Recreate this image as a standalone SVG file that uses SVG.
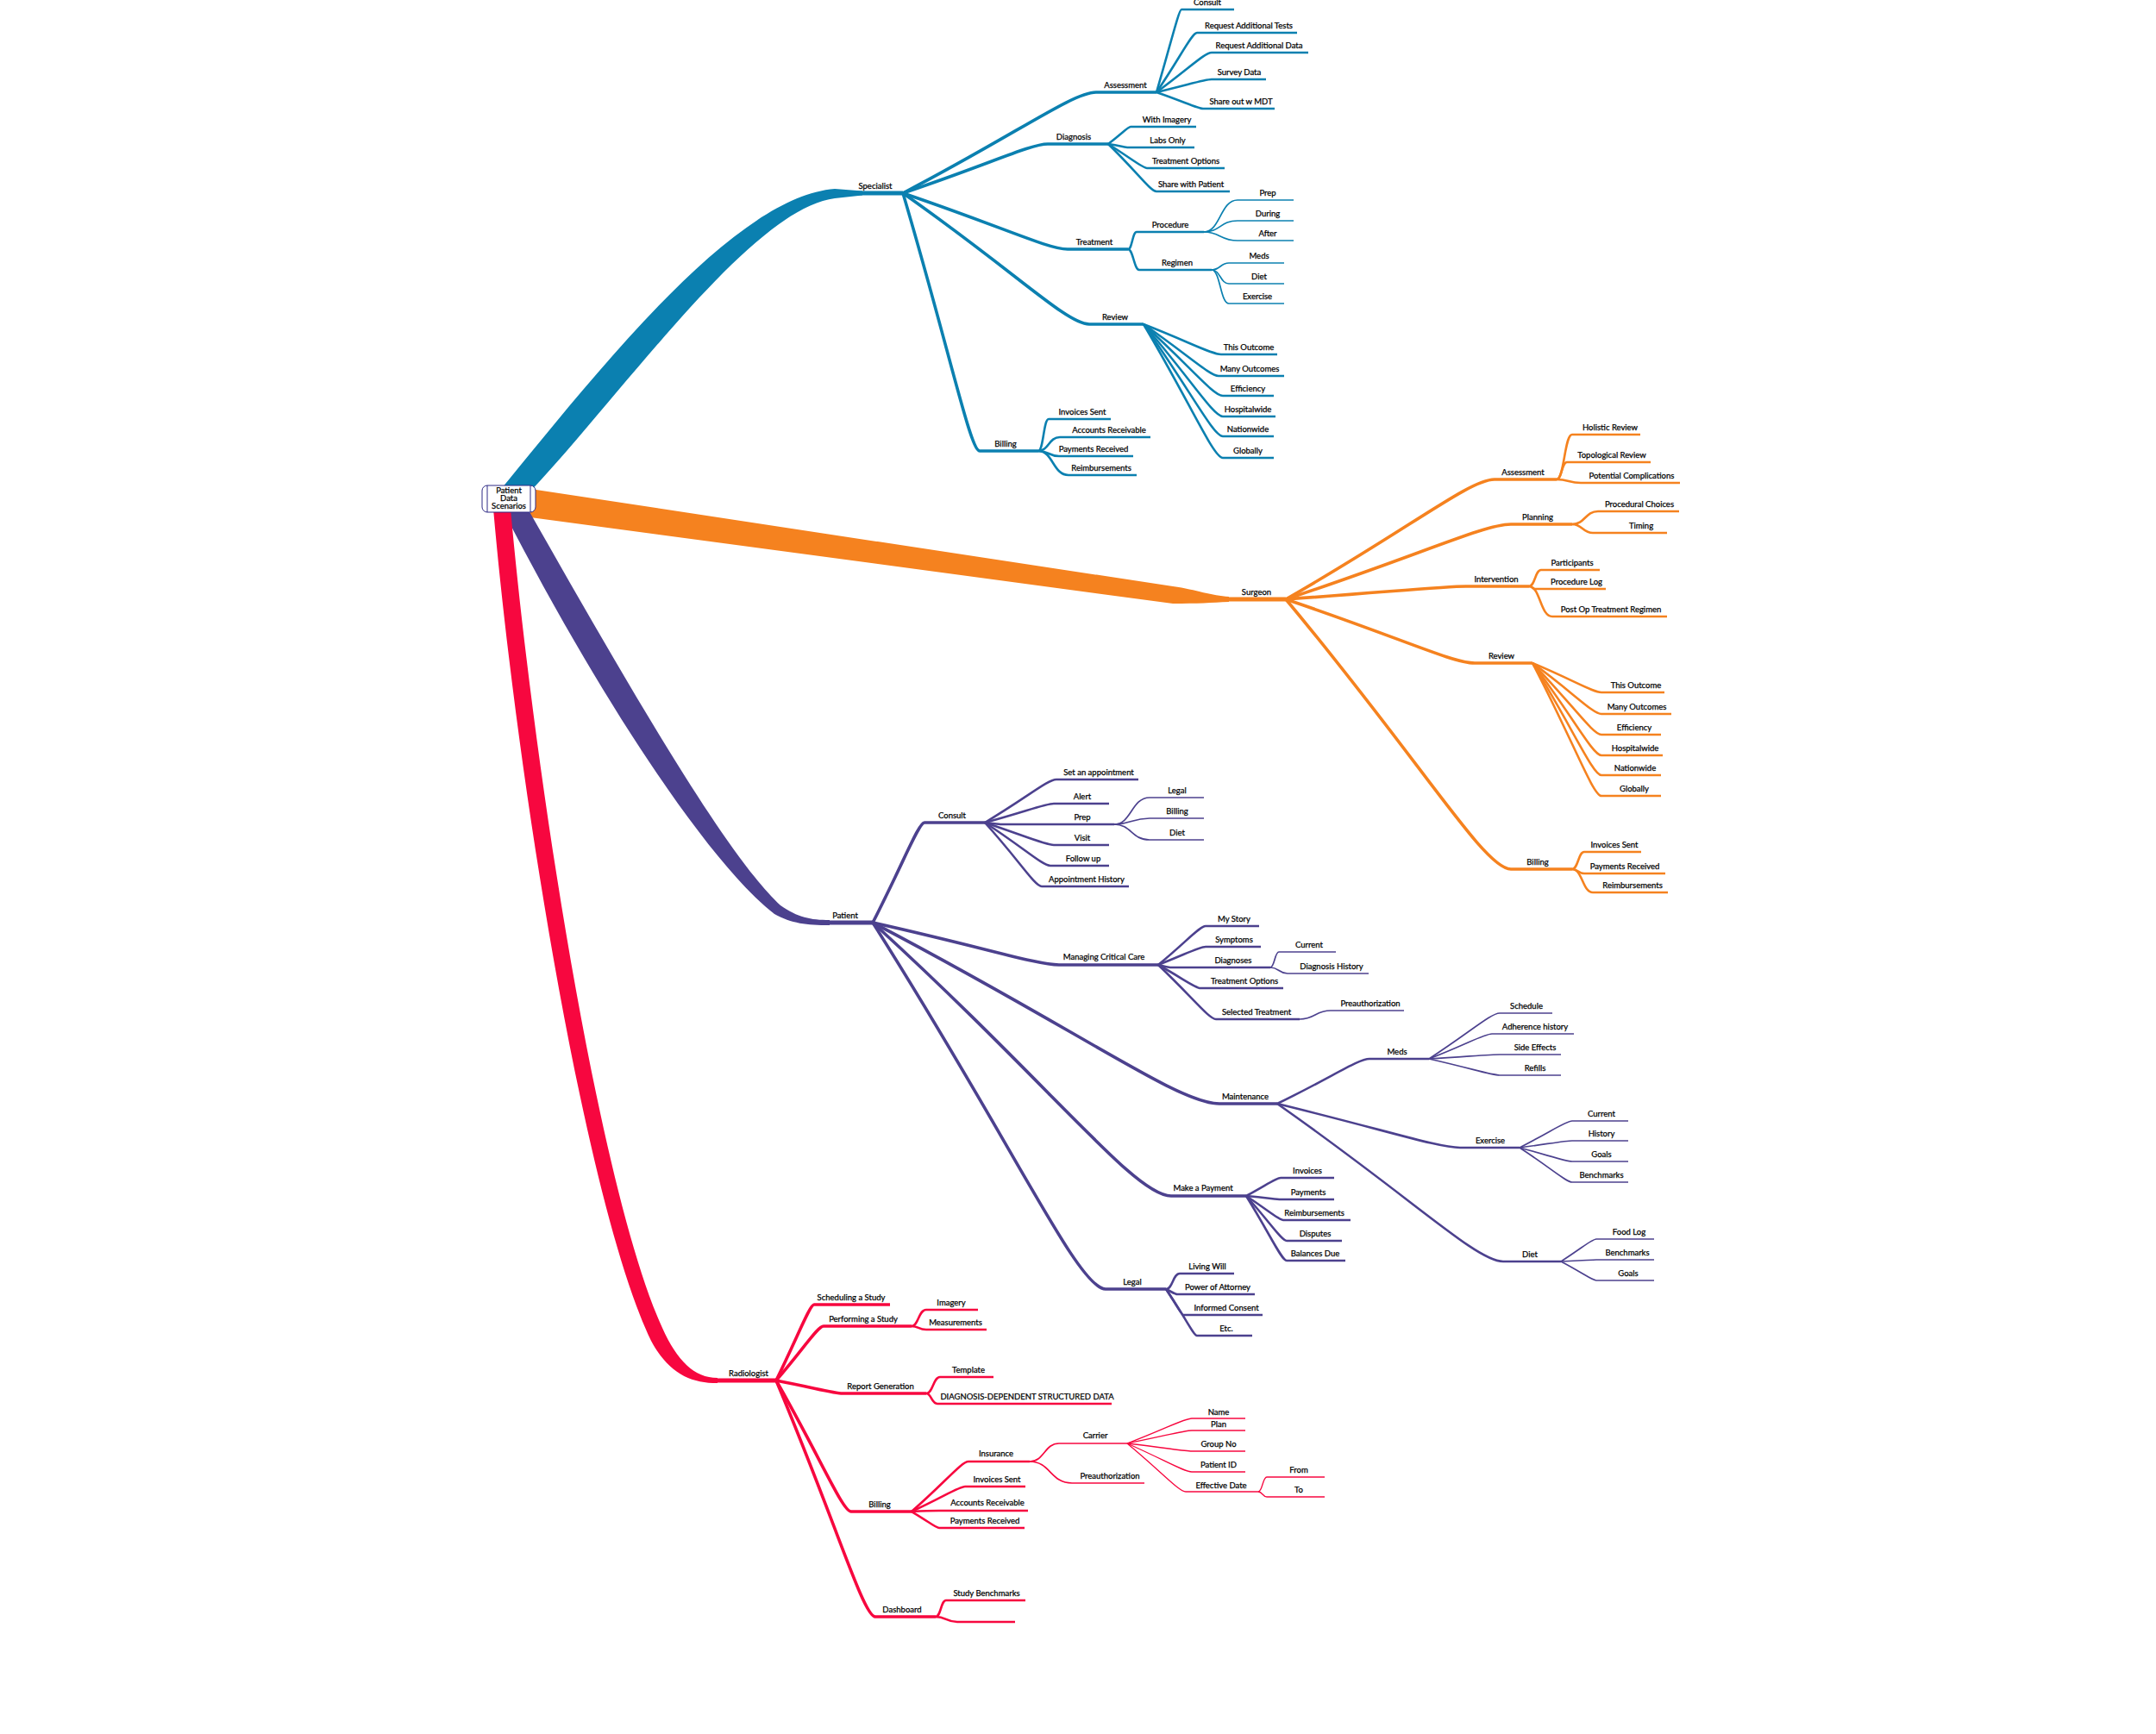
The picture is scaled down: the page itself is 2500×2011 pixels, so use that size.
<svg xmlns="http://www.w3.org/2000/svg" width="2500" height="2011" viewBox="0 0 2500 2011">
<style>
.t{font-family:Lato,'Liberation Sans',sans-serif;font-size:9.5px;fill:#000;stroke:#000;stroke-width:0.25px;text-anchor:middle}
.blue path{stroke:#0b80b0;fill:none}
.orange path{stroke:#f5821f;fill:none}
.purple path{stroke:#4c418e;fill:none}
.red path{stroke:#f7073f;fill:none}
.w0{stroke-width:5}
.w1{stroke-width:3.6}
.w2{stroke-width:2.6}
.w3{stroke-width:1.7}
.w4{stroke-width:1.3}
</style>
<rect width="2500" height="2011" fill="#fff"/>
<g id="bands">
<path d="M577,572 C690,435 850,228 968,219 L1000,221.5 L1000,226.5 L968,230 C872,242 726,452 613,572 Z" fill="#0b80b0"/>
<path d="M615,567 L1360,680 C1388,684 1405,691 1425,692 L1425,698 C1405,699 1388,700 1360,700 L615,600 Z" fill="#f5821f"/>
<path d="M612,590 C720,780 840,990 905,1050 C925,1064 940,1067 962,1067 L962,1073 C935,1073 918,1071 898,1060 C820,1000 690,800 585,595 Z" fill="#4c418e"/>
<path d="M592,590 C620,900 695,1380 768,1540 C785,1578 805,1598 832,1598 L832,1604 C800,1604 775,1592 755,1555 C680,1400 600,910 572,590 Z" fill="#f7073f"/>
</g>
<g id="connectors">
<g class="blue">
<path class="w1" d="M1047,224 C1181,154 1244,107 1271,107"/>
<path class="w1" d="M1047,224 C1148,190 1195,167 1215,167"/>
<path class="w1" d="M1047,224 C1162,263 1215,289 1238,289"/>
<path class="w1" d="M1047,224 C1177,315 1237,376 1263,376"/>
<path class="w1" d="M1047,224 C1100,403 1125,523 1136,523"/>
<path class="w2" d="M1341,107 C1358,49 1367,11 1370,11"/>
<path class="w2" d="M1341,107 C1369,66 1382,38 1388,38"/>
<path class="w2" d="M1341,107 C1379,79 1397,61 1405,61"/>
<path class="w2" d="M1341,107 C1379,98 1397,92 1405,92"/>
<path class="w2" d="M1341,107 C1373,118 1389,126 1395,126"/>
<path class="w2" d="M1285,167 C1301,155 1308,147 1311,147"/>
<path class="w2" d="M1285,167 C1299,169 1305,171 1308,171"/>
<path class="w2" d="M1285,167 C1312,184 1325,195 1330,195"/>
<path class="w2" d="M1285,167 C1319,200 1334,222 1341,222"/>
<path class="w2" d="M1308,289 C1313,289 1313,269 1318,269"/>
<path class="w2" d="M1308,289 C1314,289 1315,313 1321,313"/>
<path class="w3" d="M1396,269 C1415,269 1415,232 1435,232"/>
<path class="w3" d="M1396,269 C1415,269 1415,256 1435,256"/>
<path class="w3" d="M1396,269 C1415,269 1415,279 1435,279"/>
<path class="w3" d="M1405,313 C1415,313 1415,305 1425,305"/>
<path class="w3" d="M1405,313 C1415,313 1415,329 1425,329"/>
<path class="w3" d="M1405,313 C1415,313 1415,352 1425,352"/>
<path class="w2" d="M1326,376 C1380,397 1405,411 1416,411"/>
<path class="w2" d="M1326,376 C1378,412 1403,436 1413,436"/>
<path class="w2" d="M1326,376 C1381,426 1407,459 1418,459"/>
<path class="w2" d="M1326,376 C1381,440 1407,483 1418,483"/>
<path class="w2" d="M1326,376 C1381,454 1407,506 1418,506"/>
<path class="w2" d="M1326,376 C1381,469 1407,531 1418,531"/>
<path class="w2" d="M1204,523 C1210,523 1210,486 1216,486"/>
<path class="w2" d="M1204,523 C1216,523 1216,507 1229,507"/>
<path class="w2" d="M1204,523 C1216,523 1216,529 1228,529"/>
<path class="w2" d="M1204,523 C1221,523 1221,551 1239,551"/>
</g>
<g class="orange">
<path class="w1" d="M1491,695 C1636,612 1704,556 1733,556"/>
<path class="w1" d="M1491,695 C1648,643 1721,608 1752,608"/>
<path class="w1" d="M1491,695 C1616,686 1675,680 1700,680"/>
<path class="w1" d="M1491,695 C1622,739 1684,769 1710,769"/>
<path class="w1" d="M1491,695 C1648,883 1721,1008 1752,1008"/>
<path class="w2" d="M1805,556 C1814,556 1814,504 1823,504"/>
<path class="w2" d="M1805,556 C1811,556 1811,536 1817,536"/>
<path class="w2" d="M1805,556 C1819,556 1819,560 1833,560"/>
<path class="w2" d="M1823,608 C1838,608 1838,593 1853,593"/>
<path class="w2" d="M1823,608 C1835,608 1835,618 1847,618"/>
<path class="w2" d="M1773,680 C1780,680 1780,661 1787,661"/>
<path class="w2" d="M1773,680 C1777,680 1777,683 1780,683"/>
<path class="w2" d="M1773,680 C1786,680 1786,715 1800,715"/>
<path class="w2" d="M1777,769 C1825,789 1847,803 1857,803"/>
<path class="w2" d="M1777,769 C1825,804 1847,828 1857,828"/>
<path class="w2" d="M1777,769 C1825,819 1847,852 1857,852"/>
<path class="w2" d="M1777,769 C1825,833 1847,876 1857,876"/>
<path class="w2" d="M1777,769 C1825,847 1847,899 1857,899"/>
<path class="w2" d="M1777,769 C1825,861 1847,923 1857,923"/>
<path class="w2" d="M1823,1008 C1830,1008 1830,988 1837,988"/>
<path class="w2" d="M1823,1008 C1830,1008 1830,1013 1837,1013"/>
<path class="w2" d="M1823,1008 C1835,1008 1835,1035 1847,1035"/>
</g>
<g class="purple">
<path class="w1" d="M1012,1070 C1048,1000 1065,954 1072,954"/>
<path class="w1" d="M1012,1070 C1142,1099 1202,1119 1228,1119"/>
<path class="w1" d="M1012,1070 C1253,1196 1366,1280 1414,1280"/>
<path class="w1" d="M1012,1070 C1220,1260 1316,1387 1358,1387"/>
<path class="w1" d="M1012,1070 C1174,1325 1250,1495 1282,1495"/>
<path class="w2" d="M1142,954 C1192,924 1215,904 1225,904"/>
<path class="w2" d="M1142,954 C1190,941 1212,932 1222,932"/>
<path class="w2" d="M1142,954 C1153,955 1158,956 1160,956"/>
<path class="w2" d="M1142,954 C1190,970 1212,980 1222,980"/>
<path class="w2" d="M1142,954 C1188,984 1209,1004 1218,1004"/>
<path class="w2" d="M1142,954 C1182,998 1200,1028 1208,1028"/>
<path class="w3" d="M1292,956 C1312,956 1312,925 1333,925"/>
<path class="w3" d="M1292,956 C1312,956 1312,949 1333,949"/>
<path class="w3" d="M1292,956 C1312,956 1312,974 1333,974"/>
<path class="w2" d="M1343,1119 C1376,1092 1391,1074 1398,1074"/>
<path class="w2" d="M1343,1119 C1376,1106 1391,1098 1398,1098"/>
<path class="w2" d="M1343,1119 C1351,1121 1355,1122 1357,1122"/>
<path class="w2" d="M1343,1119 C1372,1135 1386,1146 1392,1146"/>
<path class="w2" d="M1343,1119 C1383,1157 1402,1182 1410,1182"/>
<path class="w3" d="M1473,1122 C1478,1122 1478,1104 1483,1104"/>
<path class="w3" d="M1473,1122 C1483,1122 1483,1129 1493,1129"/>
<path class="w3" d="M1507,1182 C1525,1182 1525,1172 1543,1172"/>
<path class="w2" d="M1481,1280 C1545,1249 1575,1228 1588,1228"/>
<path class="w2" d="M1481,1280 C1608,1311 1668,1331 1693,1331"/>
<path class="w2" d="M1481,1280 C1638,1390 1712,1463 1743,1463"/>
<path class="w3" d="M1657,1228 C1706,1196 1729,1175 1739,1175"/>
<path class="w3" d="M1657,1228 C1701,1211 1721,1199 1730,1199"/>
<path class="w3" d="M1657,1228 C1706,1225 1729,1223 1739,1223"/>
<path class="w3" d="M1657,1228 C1706,1239 1729,1247 1739,1247"/>
<path class="w3" d="M1762,1331 C1799,1312 1816,1300 1823,1300"/>
<path class="w3" d="M1762,1331 C1799,1326 1816,1323 1823,1323"/>
<path class="w3" d="M1762,1331 C1799,1341 1816,1347 1823,1347"/>
<path class="w3" d="M1762,1331 C1799,1355 1816,1371 1823,1371"/>
<path class="w3" d="M1810,1463 C1835,1447 1846,1437 1851,1437"/>
<path class="w3" d="M1810,1463 C1835,1462 1846,1461 1851,1461"/>
<path class="w3" d="M1810,1463 C1835,1476 1846,1485 1851,1485"/>
<path class="w2" d="M1445,1387 C1469,1374 1480,1366 1485,1366"/>
<path class="w2" d="M1445,1387 C1469,1389 1480,1391 1485,1391"/>
<path class="w2" d="M1445,1387 C1471,1404 1483,1415 1488,1415"/>
<path class="w2" d="M1445,1387 C1473,1418 1486,1439 1492,1439"/>
<path class="w2" d="M1445,1387 C1473,1432 1486,1462 1492,1462"/>
<path class="w2" d="M1352,1495 C1360,1495 1360,1477 1368,1477"/>
<path class="w2" d="M1352,1495 C1360,1499 1363,1501 1365,1501"/>
<path class="w2" d="M1352,1495 C1364,1513 1370,1525 1372,1525"/>
<path class="w2" d="M1352,1495 C1374,1527 1384,1549 1388,1549"/>
</g>
<g class="red">
<path class="w1" d="M900,1601 C926,1548 939,1513 944,1513"/>
<path class="w1" d="M900,1601 C933,1563 948,1538 955,1538"/>
<path class="w1" d="M900,1601 C946,1610 968,1616 977,1616"/>
<path class="w1" d="M900,1601 C952,1692 977,1753 987,1753"/>
<path class="w1" d="M900,1601 C969,1765 1001,1875 1015,1875"/>
<path class="w2" d="M1057,1538 C1065,1538 1065,1519 1074,1519"/>
<path class="w2" d="M1057,1538 C1065,1538 1065,1542 1074,1542"/>
<path class="w2" d="M1074,1616 C1082,1616 1082,1597 1090,1597"/>
<path class="w2" d="M1074,1616 C1080,1616 1080,1628 1087,1628"/>
<path class="w2" d="M1057,1753 C1097,1718 1115,1695 1123,1695"/>
<path class="w2" d="M1057,1753 C1094,1736 1112,1724 1119,1724"/>
<path class="w2" d="M1057,1753 C1076,1752 1085,1752 1089,1752"/>
<path class="w2" d="M1057,1753 C1076,1764 1085,1772 1089,1772"/>
<path class="w3" d="M1194,1695 C1211,1695 1211,1674 1228,1674"/>
<path class="w3" d="M1194,1695 C1218,1695 1218,1720 1243,1720"/>
<path class="w4" d="M1307,1674 C1352,1657 1373,1645 1382,1645"/>
<path class="w4" d="M1307,1674 C1352,1665 1373,1659 1382,1659"/>
<path class="w4" d="M1307,1674 C1352,1679 1373,1683 1382,1683"/>
<path class="w4" d="M1307,1674 C1352,1694 1373,1707 1382,1707"/>
<path class="w4" d="M1307,1674 C1348,1708 1367,1730 1375,1730"/>
<path class="w4" d="M1459,1730 C1464,1730 1464,1713 1469,1713"/>
<path class="w4" d="M1459,1730 C1464,1730 1464,1736 1469,1736"/>
<path class="w2" d="M1085,1875 C1091,1875 1091,1856 1097,1856"/>
<path class="w2" d="M1085,1875 C1097,1875 1097,1881 1110,1881"/>
</g>
</g>
<g id="root">
<rect x="559" y="563" width="62" height="31" rx="6" fill="#fff" stroke="#2e2a85" stroke-width="1"/>
<path d="M565,563 V594 M615,563 V594" stroke="#2e2a85" stroke-width="1"/>
<text class="t" x="590" y="572">Patient</text>
<text class="t" x="590" y="581">Data</text>
<text class="t" x="590" y="590">Scenarios</text>
</g>
<g id="specialist-branch" class="blue">
<g id="n-specialist"><path class="w0" d="M966,224 H1047"/><text class="t" x="1015" y="219">Specialist</text></g>
<g id="n-s-assessment"><path class="w1" d="M1271,107 H1341"/><text class="t" x="1305" y="102">Assessment</text></g>
<g id="n-s-consult"><path class="w2" d="M1370,11 H1431"/><text class="t" x="1400" y="6">Consult</text></g>
<g id="n-s-reqtests"><path class="w2" d="M1388,38 H1504"/><text class="t" x="1448" y="33">Request Additional Tests</text></g>
<g id="n-s-reqdata"><path class="w2" d="M1405,61 H1517"/><text class="t" x="1460" y="56">Request Additional Data</text></g>
<g id="n-s-survey"><path class="w2" d="M1405,92 H1468"/><text class="t" x="1437" y="87">Survey Data</text></g>
<g id="n-s-share"><path class="w2" d="M1395,126 H1478"/><text class="t" x="1439" y="121">Share out w MDT</text></g>
<g id="n-s-diagnosis"><path class="w1" d="M1215,167 H1285"/><text class="t" x="1245" y="162">Diagnosis</text></g>
<g id="n-s-imagery"><path class="w2" d="M1311,147 H1387"/><text class="t" x="1353" y="142">With Imagery</text></g>
<g id="n-s-labs"><path class="w2" d="M1308,171 H1385"/><text class="t" x="1354" y="166">Labs Only</text></g>
<g id="n-s-topts"><path class="w2" d="M1330,195 H1420"/><text class="t" x="1375" y="190">Treatment Options</text></g>
<g id="n-s-sharepat"><path class="w2" d="M1341,222 H1426"/><text class="t" x="1381" y="217">Share with Patient</text></g>
<g id="n-s-treatment"><path class="w1" d="M1238,289 H1308"/><text class="t" x="1269" y="284">Treatment</text></g>
<g id="n-s-procedure"><path class="w2" d="M1318,269 H1396"/><text class="t" x="1357" y="264">Procedure</text></g>
<g id="n-s-prep"><path class="w3" d="M1435,232 H1500"/><text class="t" x="1470" y="227">Prep</text></g>
<g id="n-s-during"><path class="w3" d="M1435,256 H1500"/><text class="t" x="1470" y="251">During</text></g>
<g id="n-s-after"><path class="w3" d="M1435,279 H1500"/><text class="t" x="1470" y="274">After</text></g>
<g id="n-s-regimen"><path class="w2" d="M1321,313 H1405"/><text class="t" x="1365" y="308">Regimen</text></g>
<g id="n-s-meds"><path class="w3" d="M1425,305 H1489"/><text class="t" x="1460" y="300">Meds</text></g>
<g id="n-s-diet"><path class="w3" d="M1425,329 H1489"/><text class="t" x="1460" y="324">Diet</text></g>
<g id="n-s-exercise"><path class="w3" d="M1425,352 H1489"/><text class="t" x="1458" y="347">Exercise</text></g>
<g id="n-s-review"><path class="w1" d="M1263,376 H1326"/><text class="t" x="1293" y="371">Review</text></g>
<g id="n-s-thisout"><path class="w2" d="M1416,411 H1481"/><text class="t" x="1448" y="406">This Outcome</text></g>
<g id="n-s-manyout"><path class="w2" d="M1413,436 H1489"/><text class="t" x="1449" y="431">Many Outcomes</text></g>
<g id="n-s-eff"><path class="w2" d="M1418,459 H1477"/><text class="t" x="1447" y="454">Efficiency</text></g>
<g id="n-s-hosp"><path class="w2" d="M1418,483 H1479"/><text class="t" x="1447" y="478">Hospitalwide</text></g>
<g id="n-s-nation"><path class="w2" d="M1418,506 H1477"/><text class="t" x="1447" y="501">Nationwide</text></g>
<g id="n-s-global"><path class="w2" d="M1418,531 H1477"/><text class="t" x="1447" y="526">Globally</text></g>
<g id="n-s-billing"><path class="w1" d="M1136,523 H1204"/><text class="t" x="1166" y="518">Billing</text></g>
<g id="n-s-invsent"><path class="w2" d="M1216,486 H1288"/><text class="t" x="1255" y="481">Invoices Sent</text></g>
<g id="n-s-acctrec"><path class="w2" d="M1229,507 H1334"/><text class="t" x="1286" y="502">Accounts Receivable</text></g>
<g id="n-s-payrec"><path class="w2" d="M1228,529 H1314"/><text class="t" x="1268" y="524">Payments Received</text></g>
<g id="n-s-reimb"><path class="w2" d="M1239,551 H1318"/><text class="t" x="1277" y="546">Reimbursements</text></g>
</g>
<g id="surgeon-branch" class="orange">
<g id="n-surgeon"><path class="w0" d="M1420,695 H1491"/><text class="t" x="1457" y="690">Surgeon</text></g>
<g id="n-g-assessment"><path class="w1" d="M1733,556 H1805"/><text class="t" x="1766" y="551">Assessment</text></g>
<g id="n-g-holistic"><path class="w2" d="M1823,504 H1902"/><text class="t" x="1867" y="499">Holistic Review</text></g>
<g id="n-g-topo"><path class="w2" d="M1817,536 H1914"/><text class="t" x="1869" y="531">Topological Review</text></g>
<g id="n-g-potential"><path class="w2" d="M1833,560 H1948"/><text class="t" x="1892" y="555">Potential Complications</text></g>
<g id="n-g-planning"><path class="w1" d="M1752,608 H1823"/><text class="t" x="1783" y="603">Planning</text></g>
<g id="n-g-choices"><path class="w2" d="M1853,593 H1947"/><text class="t" x="1901" y="588">Procedural Choices</text></g>
<g id="n-g-timing"><path class="w2" d="M1847,618 H1933"/><text class="t" x="1903" y="613">Timing</text></g>
<g id="n-g-intervention"><path class="w1" d="M1700,680 H1773"/><text class="t" x="1735" y="675">Intervention</text></g>
<g id="n-g-participants"><path class="w2" d="M1787,661 H1855"/><text class="t" x="1823" y="656">Participants</text></g>
<g id="n-g-proclog"><path class="w2" d="M1780,683 H1862"/><text class="t" x="1828" y="678">Procedure Log</text></g>
<g id="n-g-postop"><path class="w2" d="M1800,715 H1933"/><text class="t" x="1868" y="710">Post Op Treatment Regimen</text></g>
<g id="n-g-review"><path class="w1" d="M1710,769 H1777"/><text class="t" x="1741" y="764">Review</text></g>
<g id="n-g-thisout"><path class="w2" d="M1857,803 H1930"/><text class="t" x="1897" y="798">This Outcome</text></g>
<g id="n-g-manyout"><path class="w2" d="M1857,828 H1938"/><text class="t" x="1898" y="823">Many Outcomes</text></g>
<g id="n-g-eff"><path class="w2" d="M1857,852 H1926"/><text class="t" x="1895" y="847">Efficiency</text></g>
<g id="n-g-hosp"><path class="w2" d="M1857,876 H1928"/><text class="t" x="1896" y="871">Hospitalwide</text></g>
<g id="n-g-nation"><path class="w2" d="M1857,899 H1926"/><text class="t" x="1896" y="894">Nationwide</text></g>
<g id="n-g-global"><path class="w2" d="M1857,923 H1926"/><text class="t" x="1895" y="918">Globally</text></g>
<g id="n-g-billing"><path class="w1" d="M1752,1008 H1823"/><text class="t" x="1783" y="1003">Billing</text></g>
<g id="n-g-invsent"><path class="w2" d="M1837,988 H1903"/><text class="t" x="1872" y="983">Invoices Sent</text></g>
<g id="n-g-payrec"><path class="w2" d="M1837,1013 H1931"/><text class="t" x="1884" y="1008">Payments Received</text></g>
<g id="n-g-reimb"><path class="w2" d="M1847,1035 H1934"/><text class="t" x="1893" y="1030">Reimbursements</text></g>
</g>
<g id="patient-branch" class="purple">
<g id="n-patient"><path class="w0" d="M958,1070 H1012"/><text class="t" x="980" y="1065">Patient</text></g>
<g id="n-p-consult"><path class="w1" d="M1072,954 H1142"/><text class="t" x="1104" y="949">Consult</text></g>
<g id="n-p-setappt"><path class="w2" d="M1225,904 H1320"/><text class="t" x="1274" y="899">Set an appointment</text></g>
<g id="n-p-alert"><path class="w2" d="M1222,932 H1286"/><text class="t" x="1255" y="927">Alert</text></g>
<g id="n-p-prep"><path class="w2" d="M1160,956 H1292"/><text class="t" x="1255" y="951">Prep</text></g>
<g id="n-p-legal1"><path class="w3" d="M1333,925 H1396"/><text class="t" x="1365" y="920">Legal</text></g>
<g id="n-p-billing1"><path class="w3" d="M1333,949 H1396"/><text class="t" x="1365" y="944">Billing</text></g>
<g id="n-p-diet1"><path class="w3" d="M1333,974 H1396"/><text class="t" x="1365" y="969">Diet</text></g>
<g id="n-p-visit"><path class="w2" d="M1222,980 H1286"/><text class="t" x="1255" y="975">Visit</text></g>
<g id="n-p-followup"><path class="w2" d="M1218,1004 H1286"/><text class="t" x="1256" y="999">Follow up</text></g>
<g id="n-p-appthist"><path class="w2" d="M1208,1028 H1309"/><text class="t" x="1260" y="1023">Appointment History</text></g>
<g id="n-p-mcc"><path class="w1" d="M1228,1119 H1343"/><text class="t" x="1280" y="1113">Managing Critical Care</text></g>
<g id="n-p-mystory"><path class="w2" d="M1398,1074 H1460"/><text class="t" x="1431" y="1069">My Story</text></g>
<g id="n-p-symptoms"><path class="w2" d="M1398,1098 H1462"/><text class="t" x="1431" y="1093">Symptoms</text></g>
<g id="n-p-diagnoses"><path class="w2" d="M1357,1122 H1473"/><text class="t" x="1430" y="1117">Diagnoses</text></g>
<g id="n-p-current"><path class="w3" d="M1483,1104 H1549"/><text class="t" x="1518" y="1099">Current</text></g>
<g id="n-p-diaghist"><path class="w3" d="M1493,1129 H1587"/><text class="t" x="1544" y="1124">Diagnosis History</text></g>
<g id="n-p-topts"><path class="w2" d="M1392,1146 H1488"/><text class="t" x="1443" y="1141">Treatment Options</text></g>
<g id="n-p-seltreat"><path class="w2" d="M1410,1182 H1507"/><text class="t" x="1457" y="1177">Selected Treatment</text></g>
<g id="n-p-preauth"><path class="w3" d="M1543,1172 H1628"/><text class="t" x="1589" y="1167">Preauthorization</text></g>
<g id="n-p-maint"><path class="w1" d="M1414,1280 H1481"/><text class="t" x="1444" y="1275">Maintenance</text></g>
<g id="n-p-meds"><path class="w2" d="M1588,1228 H1657"/><text class="t" x="1620" y="1223">Meds</text></g>
<g id="n-p-schedule"><path class="w3" d="M1739,1175 H1800"/><text class="t" x="1770" y="1170">Schedule</text></g>
<g id="n-p-adherence"><path class="w3" d="M1730,1199 H1825"/><text class="t" x="1780" y="1194">Adherence history</text></g>
<g id="n-p-side"><path class="w3" d="M1739,1223 H1810"/><text class="t" x="1780" y="1218">Side Effects</text></g>
<g id="n-p-refills"><path class="w3" d="M1739,1247 H1810"/><text class="t" x="1780" y="1242">Refills</text></g>
<g id="n-p-exercise"><path class="w2" d="M1693,1331 H1762"/><text class="t" x="1728" y="1326">Exercise</text></g>
<g id="n-p-ex-current"><path class="w3" d="M1823,1300 H1888"/><text class="t" x="1857" y="1295">Current</text></g>
<g id="n-p-ex-history"><path class="w3" d="M1823,1323 H1888"/><text class="t" x="1857" y="1318">History</text></g>
<g id="n-p-ex-goals"><path class="w3" d="M1823,1347 H1888"/><text class="t" x="1857" y="1342">Goals</text></g>
<g id="n-p-ex-bench"><path class="w3" d="M1823,1371 H1888"/><text class="t" x="1857" y="1366">Benchmarks</text></g>
<g id="n-p-diet"><path class="w2" d="M1743,1463 H1810"/><text class="t" x="1774" y="1458">Diet</text></g>
<g id="n-p-foodlog"><path class="w3" d="M1851,1437 H1918"/><text class="t" x="1889" y="1432">Food Log</text></g>
<g id="n-p-d-bench"><path class="w3" d="M1851,1461 H1918"/><text class="t" x="1887" y="1456">Benchmarks</text></g>
<g id="n-p-d-goals"><path class="w3" d="M1851,1485 H1918"/><text class="t" x="1888" y="1480">Goals</text></g>
<g id="n-p-payment"><path class="w1" d="M1358,1387 H1445"/><text class="t" x="1395" y="1381">Make a Payment</text></g>
<g id="n-p-invoices"><path class="w2" d="M1485,1366 H1547"/><text class="t" x="1516" y="1361">Invoices</text></g>
<g id="n-p-payments"><path class="w2" d="M1485,1391 H1547"/><text class="t" x="1517" y="1386">Payments</text></g>
<g id="n-p-reimb"><path class="w2" d="M1488,1415 H1566"/><text class="t" x="1524" y="1410">Reimbursements</text></g>
<g id="n-p-disputes"><path class="w2" d="M1492,1439 H1556"/><text class="t" x="1525" y="1434">Disputes</text></g>
<g id="n-p-balances"><path class="w2" d="M1492,1462 H1560"/><text class="t" x="1525" y="1457">Balances Due</text></g>
<g id="n-p-legal"><path class="w1" d="M1282,1495 H1352"/><text class="t" x="1313" y="1490">Legal</text></g>
<g id="n-p-will"><path class="w2" d="M1368,1477 H1431"/><text class="t" x="1400" y="1472">Living Will</text></g>
<g id="n-p-poa"><path class="w2" d="M1365,1501 H1455"/><text class="t" x="1412" y="1496">Power of Attorney</text></g>
<g id="n-p-consent"><path class="w2" d="M1372,1525 H1464"/><text class="t" x="1422" y="1520">Informed Consent</text></g>
<g id="n-p-etc"><path class="w2" d="M1388,1549 H1452"/><text class="t" x="1422" y="1544">Etc.</text></g>
</g>
<g id="radiologist-branch" class="red">
<g id="n-radiologist"><path class="w0" d="M830,1601 H900"/><text class="t" x="868" y="1596">Radiologist</text></g>
<g id="n-r-sched"><path class="w1" d="M944,1513 H1032"/><text class="t" x="987" y="1508">Scheduling a Study</text></g>
<g id="n-r-perform"><path class="w1" d="M955,1538 H1057"/><text class="t" x="1001" y="1533">Performing a Study</text></g>
<g id="n-r-imagery"><path class="w2" d="M1074,1519 H1134"/><text class="t" x="1103" y="1514">Imagery</text></g>
<g id="n-r-meas"><path class="w2" d="M1074,1542 H1144"/><text class="t" x="1108" y="1537">Measurements</text></g>
<g id="n-r-report"><path class="w1" d="M977,1616 H1074"/><text class="t" x="1021" y="1611">Report Generation</text></g>
<g id="n-r-template"><path class="w2" d="M1090,1597 H1152"/><text class="t" x="1123" y="1592">Template</text></g>
<g id="n-r-ddsd"><path class="w2" d="M1087,1628 H1289"/><text class="t" x="1191" y="1623">DIAGNOSIS-DEPENDENT STRUCTURED DATA</text></g>
<g id="n-r-billing"><path class="w1" d="M987,1753 H1057"/><text class="t" x="1020" y="1748">Billing</text></g>
<g id="n-r-insurance"><path class="w2" d="M1123,1695 H1194"/><text class="t" x="1155" y="1689">Insurance</text></g>
<g id="n-r-carrier"><path class="w3" d="M1228,1674 H1307"/><text class="t" x="1270" y="1668">Carrier</text></g>
<g id="n-r-name"><path class="w4" d="M1382,1645 H1444"/><text class="t" x="1413" y="1641">Name</text></g>
<g id="n-r-plan"><path class="w4" d="M1382,1659 H1444"/><text class="t" x="1413" y="1655">Plan</text></g>
<g id="n-r-group"><path class="w4" d="M1382,1683 H1444"/><text class="t" x="1413" y="1678">Group No</text></g>
<g id="n-r-patid"><path class="w4" d="M1382,1707 H1444"/><text class="t" x="1413" y="1702">Patient ID</text></g>
<g id="n-r-effdate"><path class="w4" d="M1375,1730 H1459"/><text class="t" x="1416" y="1726">Effective Date</text></g>
<g id="n-r-from"><path class="w4" d="M1469,1713 H1536"/><text class="t" x="1506" y="1708">From</text></g>
<g id="n-r-to"><path class="w4" d="M1469,1736 H1536"/><text class="t" x="1506" y="1731">To</text></g>
<g id="n-r-preauth"><path class="w3" d="M1243,1720 H1327"/><text class="t" x="1287" y="1715">Preauthorization</text></g>
<g id="n-r-invsent"><path class="w2" d="M1119,1724 H1189"/><text class="t" x="1156" y="1719">Invoices Sent</text></g>
<g id="n-r-acctrec"><path class="w2" d="M1089,1752 H1192"/><text class="t" x="1145" y="1746">Accounts Receivable</text></g>
<g id="n-r-payrec"><path class="w2" d="M1089,1772 H1188"/><text class="t" x="1142" y="1767">Payments Received</text></g>
<g id="n-r-dashboard"><path class="w1" d="M1015,1875 H1085"/><text class="t" x="1046" y="1870">Dashboard</text></g>
<g id="n-r-bench"><path class="w2" d="M1097,1856 H1189"/><text class="t" x="1144" y="1851">Study Benchmarks</text></g>
<g id="n-r-blank"><path class="w2" d="M1110,1881 H1177"/></g>
</g>
</svg>
